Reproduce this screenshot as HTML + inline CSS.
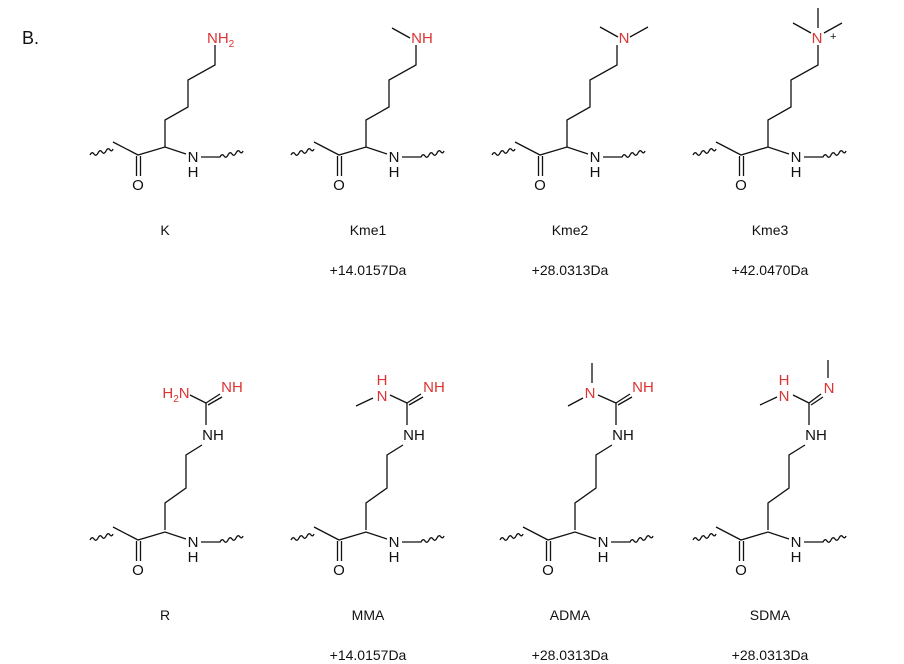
<!DOCTYPE html>
<html><head><meta charset="utf-8"><style>
html,body{margin:0;padding:0;background:#fff}
svg{display:block}
text{font-family:"Liberation Sans",Arial,sans-serif}
</style></head><body>
<svg width="904" height="664" viewBox="0 0 904 664" xmlns="http://www.w3.org/2000/svg">
<defs>
<g id="bb" fill="none" stroke="#111" stroke-width="1.3">
<path d="M90,155 q2,-4 4,-1 q2,3 4,-1 q2,-4 4,-1 q2,3 4,-1 q2,-4 4,-1 q2,2 3,-1"/>
<path d="M113,142 L138,155 L165,147 L186,154"/>
<path d="M136.5,156 V176 M140.5,156 V176"/>
<path d="M201,157 L220,157 q2,-4 4,-1 q2,3 4,-1 q2,-4 4,-1 q2,3 4,-1 q2,-4 4,-1 q2,2 3,-1"/>
<text x="138" y="190" font-size="15" fill="#111" stroke="none" text-anchor="middle">O</text>
<text x="193" y="162" font-size="15" fill="#111" stroke="none" text-anchor="middle">N</text>
<text x="193" y="177" font-size="15" fill="#111" stroke="none" text-anchor="middle">H</text>
</g>
<g id="kchain" fill="none" stroke="#111" stroke-width="1.3">
<path d="M165,147 L165,120 L188,107 L188,80 L215,65 L215,45"/>
</g>
<g id="rchain" fill="none" stroke="#111" stroke-width="1.3">
<path d="M165,145 L165,118 L186,103 L186,70 L202,60"/>
<path d="M206,40 V18"/>
<text x="213" y="55" font-size="15" fill="#111" stroke="none" text-anchor="middle">NH</text>
</g>
</defs>

<text x="22" y="44" font-size="18" fill="#111">B.</text>

<use href="#bb"/><use href="#kchain"/>
<text x="207" y="43" font-size="15" fill="#d33">NH<tspan font-size="10" dy="4">2</tspan></text>
<g transform="translate(201,0)"><use href="#bb"/><use href="#kchain"/></g>
<text x="422" y="43" font-size="15" fill="#d33" text-anchor="middle">NH</text>
<path d="M410,38 L392,28" stroke="#111" stroke-width="1.3"/>
<g transform="translate(402,0)"><use href="#bb"/><use href="#kchain"/></g>
<text x="624" y="43" font-size="15" fill="#d33" text-anchor="middle">N</text>
<path d="M618,37 L600,27 M630,37 L648,27" stroke="#111" stroke-width="1.3"/>
<g transform="translate(603,0)"><use href="#bb"/><use href="#kchain"/></g>
<text x="817" y="43" font-size="15" fill="#d33" text-anchor="middle">N</text>
<text x="830" y="40" font-size="11" fill="#111">+</text>
<path d="M818,8 V28 M811,33 L793,23 M824,33 L842,23" stroke="#111" stroke-width="1.3"/>

<g font-size="14" fill="#111" text-anchor="middle">
<text x="165" y="235">K</text>
<text x="368" y="235">Kme1</text>
<text x="570" y="235">Kme2</text>
<text x="770" y="235">Kme3</text>
<text x="368" y="275">+14.0157Da</text>
<text x="570" y="275">+28.0313Da</text>
<text x="770" y="275">+42.0470Da</text>
<text x="165" y="620">R</text>
<text x="368" y="620">MMA</text>
<text x="570" y="620">ADMA</text>
<text x="770" y="620">SDMA</text>
<text x="368" y="660">+14.0157Da</text>
<text x="570" y="660">+28.0313Da</text>
<text x="770" y="660">+28.0313Da</text>
</g>

<g transform="translate(0,385)"><use href="#bb"/><use href="#rchain"/></g>
<g transform="translate(201,385)"><use href="#bb"/><use href="#rchain"/></g>
<g transform="translate(410,385)"><use href="#bb"/><use href="#rchain"/></g>
<g transform="translate(603,385)"><use href="#bb"/><use href="#rchain"/></g>

<g stroke="#111" stroke-width="1.3" fill="none">
<path d="M206,403 L190,395 M206,403 L220,394 M208,405 L222,397"/>
<path d="M407,403 L390,395 M407,403 L421,394 M409,405 L423,397 M373,398 L356,406"/>
<path d="M616,403 L598,395 M616,403 L630,394 M618,405 L632,397 M583,398 L568,406 M592,383 V363"/>
<path d="M809,403 L793,395 M809,403 L821,394 M811,405 L823,397 M777,397 L760,405 M828,378 V360"/>
</g>
<g font-size="15" fill="#d33" text-anchor="middle">
<text x="176" y="398">H<tspan font-size="10" dy="4">2</tspan><tspan dy="-4">N</tspan></text>
<text x="232" y="392">NH</text>
<text x="382" y="385">H</text><text x="382" y="401">N</text>
<text x="434" y="392">NH</text>
<text x="590" y="398">N</text>
<text x="643" y="392">NH</text>
<text x="784" y="385">H</text><text x="784" y="401">N</text>
<text x="829" y="393">N</text>
</g>
</svg>
</body></html>
